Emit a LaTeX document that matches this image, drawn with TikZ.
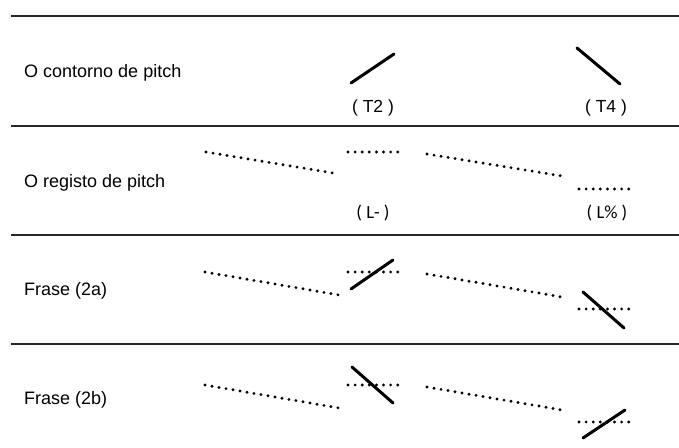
\documentclass[tikz,border=0pt]{standalone}
\usepackage{fontspec}
\setmainfont{Liberation Sans}
\newfontfamily\calfont{Carlito}
\begin{document}
\begin{tikzpicture}[x=1bp,y=-1bp,
  rule/.style={line width=2bp,black!85},
  contour/.style={line width=3bp,line cap=round},
  register/.style={line width=3.2bp,line cap=round,dash pattern=on 0bp off 7.1bp},
  rowlabel/.style={anchor=west,inner sep=0pt,font=\fontsize{18bp}{20bp}\selectfont},
  tonelabel/.style={inner sep=0pt,font=\fontsize{17.5bp}{19bp}\selectfont},
  boundlabel/.style={inner sep=0pt,font=\calfont\fontsize{18.5bp}{20bp}\selectfont}]
\useasboundingbox (0,0) rectangle (679,448);
% horizontal rules
\draw[rule] (11,16) -- (679,16);
\draw[rule] (11,126) -- (679,126);
\draw[rule] (11,235) -- (679,235);
\draw[rule] (11,344) -- (679,344);
% row labels
\node[rowlabel] (r1) at (24,73) {O contorno de pitch};
\node[rowlabel] (r2) at (24,183) {O registo de pitch};
\node[rowlabel] (r3) at (24,291) {Frase (2a)};
\node[rowlabel] (r4) at (24,400) {Frase (2b)};
% row 1: contours
\draw[contour] (351,83) -- (394,54);
\draw[contour] (577,48) -- (620,84);
\node[tonelabel] (t2) at (373,108) {( T2 )};
\node[tonelabel] (t4) at (606,108) {( T4 )};
% row 2: registers
\draw[register] (206,152) -- (339,174);
\draw[register] (348,152) -- (398,152);
\draw[register] (427,154) -- (562,176);
\draw[register] (579,189) -- (629,189);
\node[boundlabel] (lminus) at (373,213) {( L- )};
\node[boundlabel] (lpct) at (607,213) {( L\% )};
% row 3: Frase (2a)
\draw[register] (205,272) -- (339,295);
\draw[register] (348,272) -- (398,272);
\draw[contour] (351,289) -- (393,260);
\draw[register] (427,274) -- (562,297);
\draw[register] (579,309) -- (629,309);
\draw[contour] (583,292) -- (624,328);
% row 4: Frase (2b)
\draw[register] (205,385) -- (339,408);
\draw[register] (348,385) -- (398,385);
\draw[contour] (352,367) -- (393,403);
\draw[register] (427,387) -- (562,410);
\draw[register] (579,422) -- (629,422);
\draw[contour] (583,438) -- (625,410);
\end{tikzpicture}
\end{document}
